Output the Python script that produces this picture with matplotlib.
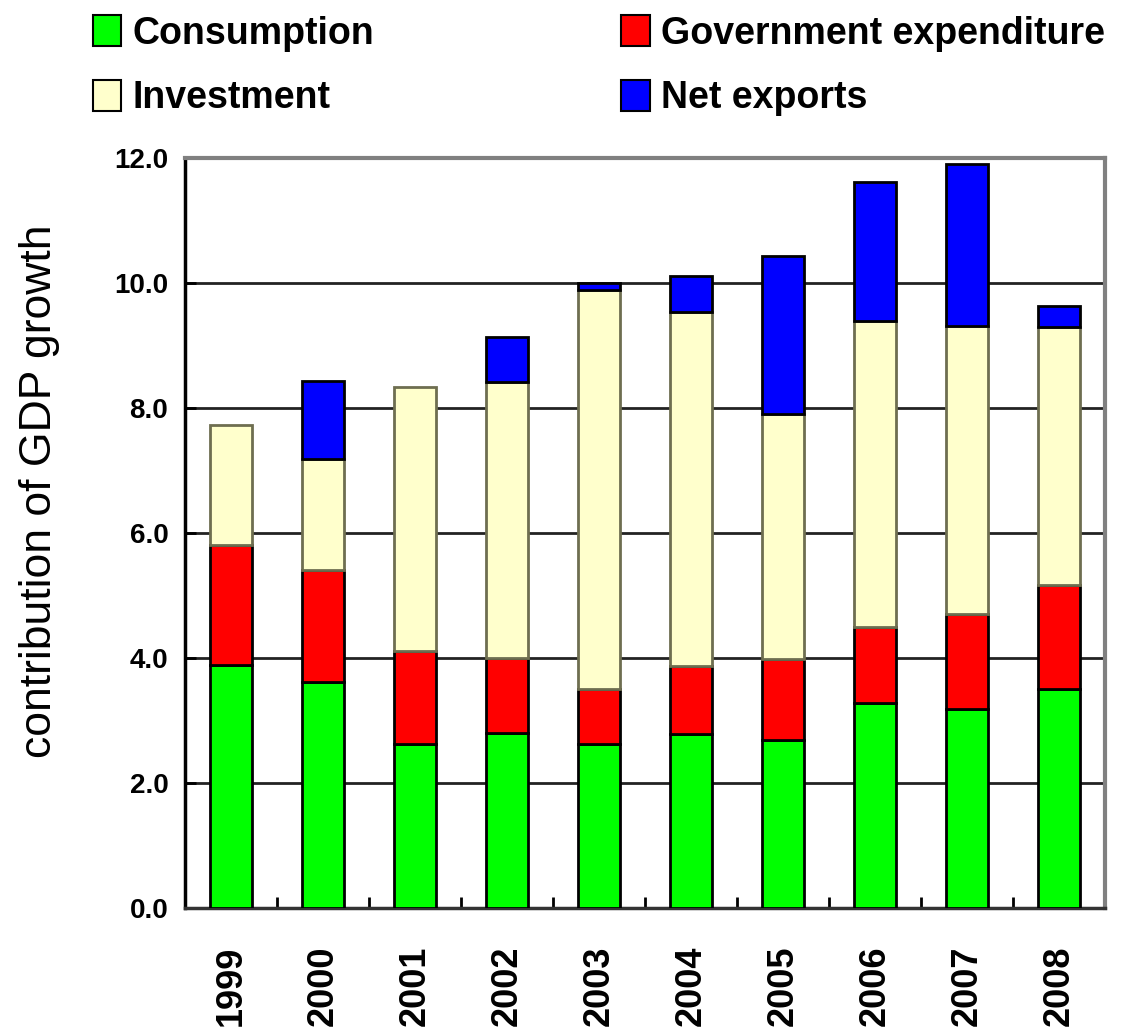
import numpy as np
import matplotlib
matplotlib.use("Agg")
from matplotlib import pyplot as plt
from matplotlib.patches import Patch

plt.rcParams['font.family'] = ['Liberation Sans', 'DejaVu Sans']

years = ["1999", "2000", "2001", "2002", "2003", "2004", "2005", "2006", "2007", "2008"]
consumption = [3.89, 3.62, 2.62, 2.80, 2.62, 2.79, 2.69, 3.28, 3.19, 3.51]
government = [1.91, 1.78, 1.49, 1.20, 0.89, 1.08, 1.30, 1.21, 1.51, 1.65]
investment = [1.92, 1.79, 4.22, 4.41, 6.37, 5.66, 3.91, 4.90, 4.61, 4.14]
net_exports = [0.0, 1.24, 0.0, 0.72, 0.12, 0.58, 2.53, 2.23, 2.59, 0.33]

colors = ["#00FF00", "#FF0000", "#FFFFCC", "#0000FF"]
names = ["Consumption", "Government expenditure", "Investment", "Net exports"]

fig = plt.figure(figsize=(11.35, 10.34), dpi=100)
ax = fig.add_axes([0.163, 0.122, 0.8106, 0.7252])

x = np.arange(len(years))
w = 0.45
bottom = np.zeros(len(years))
series = [consumption, government, investment, net_exports]
edges = ["black", "black", "#6e6e50", "black"]
for vals, c, ec in zip(series, colors, edges):
    vals = np.array(vals)
    mask = vals > 0
    ax.bar(x[mask], vals[mask], w, bottom=bottom[mask], color=c,
           edgecolor=ec, linewidth=2, zorder=3)
    bottom += vals

ax.set_xlim(-0.5, 9.5)
ax.set_ylim(0, 12)
ax.set_yticks(np.arange(0, 12.1, 2))
ax.set_yticklabels(["%.1f" % v for v in np.arange(0, 12.1, 2)],
                   fontsize=20, fontweight='bold')
ax.yaxis.grid(True, color='#222222', linewidth=2, zorder=0)
ax.tick_params(axis='y', direction='in', length=8, width=2, pad=12)

ax.set_xticks(x)
ax.set_xticklabels(years, rotation=90, fontsize=26, fontweight='bold')
ax.tick_params(axis='x', which='major', length=0, pad=27)
ax.set_xticks(np.arange(0.5, 9.6, 1), minor=True)
ax.tick_params(axis='x', which='minor', direction='in', length=8, width=2)

ax.set_ylabel("contribution of GDP growth", fontsize=32)
ax.yaxis.set_label_coords(-0.136, 0.556)

ax.spines['left'].set_color('black')
ax.spines['left'].set_linewidth(2.5)
ax.spines['bottom'].set_color('#333333')
ax.spines['bottom'].set_linewidth(2.5)
for s in ['top', 'right']:
    ax.spines[s].set_color('#808080')
    ax.spines[s].set_linewidth(3)

handles = [Patch(facecolor=colors[i], edgecolor='black', linewidth=1.5) for i in [0, 2, 1, 3]]
labels = [names[i] for i in [0, 2, 1, 3]]
fig.legend(handles, labels, ncol=2, loc='upper left', bbox_to_anchor=(0.052, 1.018),
           frameon=False, prop={'size': 27, 'weight': 'bold'},
           handlelength=0.75, handleheight=0.9, handletextpad=0.3,
           columnspacing=6.6, labelspacing=0.75)

plt.savefig("out.png", dpi=100)
